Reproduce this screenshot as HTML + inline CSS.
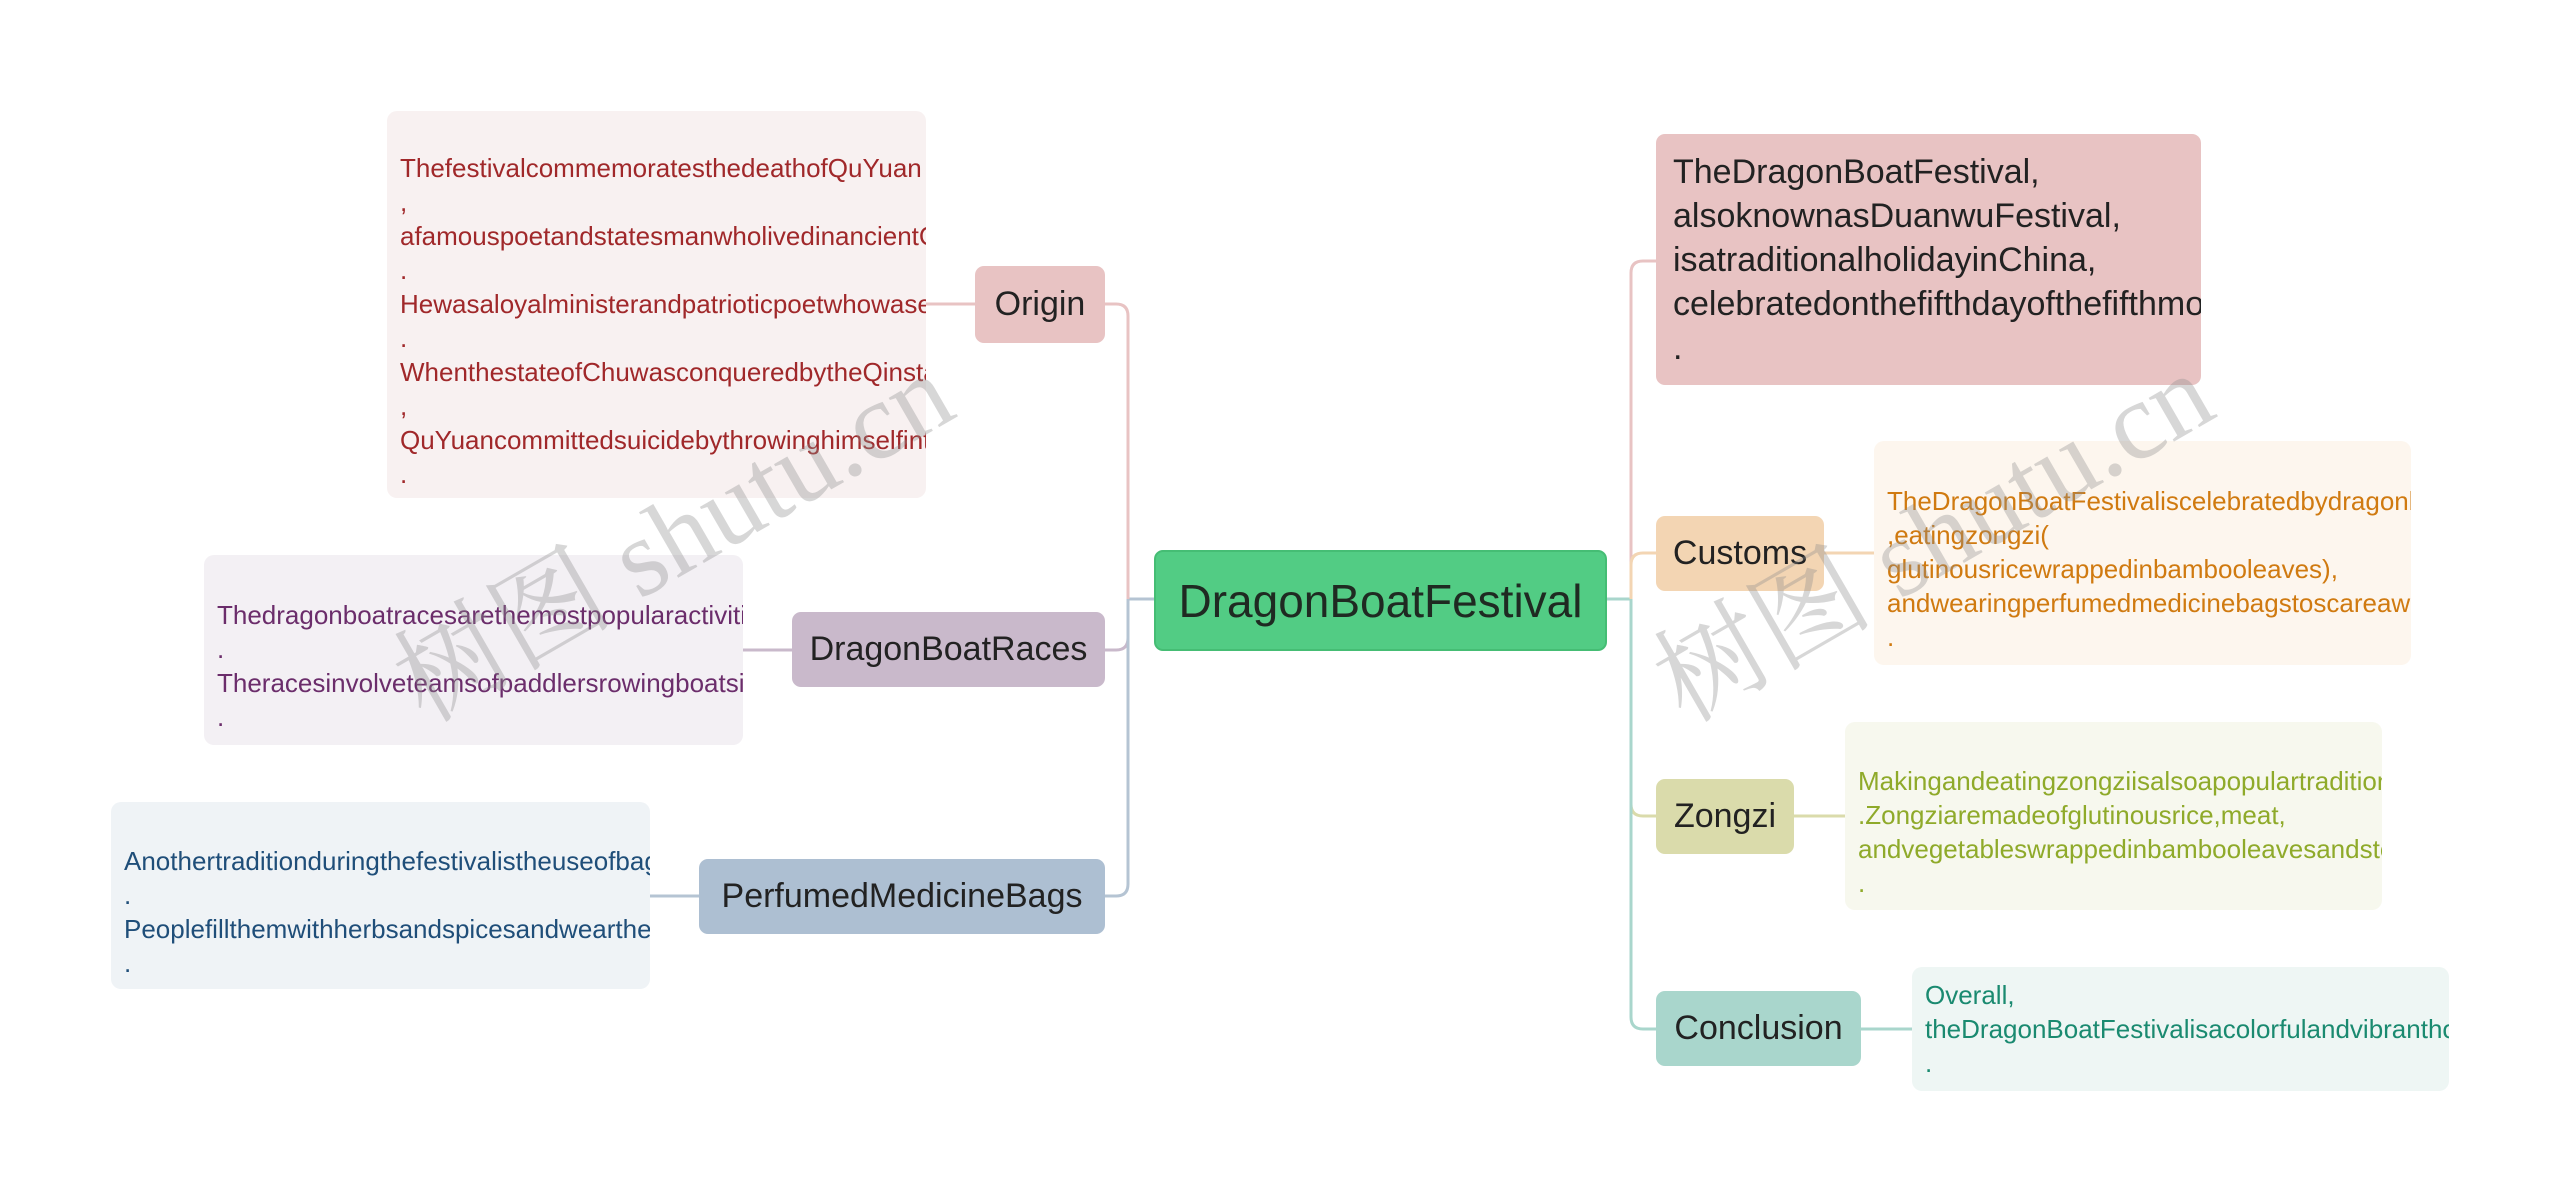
<!DOCTYPE html>
<html><head><meta charset="utf-8"><style>
*{margin:0;padding:0;box-sizing:border-box}
body{width:2560px;height:1201px;background:#fff;position:relative;overflow:hidden;font-family:"Liberation Sans","Noto Sans CJK SC",sans-serif}
.b{position:absolute;border-radius:9px;display:flex;align-items:center;justify-content:center;color:#222;font-size:34px;white-space:nowrap}
.t{position:absolute;border-radius:10px;overflow:hidden;display:flex;flex-direction:column;justify-content:center;padding-left:13px;padding-top:32px;font-size:26px;line-height:34px;white-space:nowrap}
.wm{position:absolute;font-family:"Liberation Serif","Noto Serif CJK SC",serif;font-size:110px;color:rgba(140,140,140,0.35);transform:rotate(-30deg);white-space:nowrap}
</style></head><body>
<svg width="2560" height="1201" style="position:absolute;left:0;top:0" fill="none" stroke-width="3">
<path d="M1154 599H1128" stroke="#b5c4d3"/>
<path d="M1128 599V316Q1128 304 1116 304H1105" stroke="#e8c3c3"/>
<path d="M1128 599V638Q1128 650 1116 650H1105" stroke="#c9b9cb"/>
<path d="M1128 599V884Q1128 896 1116 896H1105" stroke="#b5c4d3"/>
<path d="M975 304H926" stroke="#e8c3c3"/>
<path d="M792 650H743" stroke="#c9b9cb"/>
<path d="M699 896H650" stroke="#b5c4d3"/>
<path d="M1607 599H1631" stroke="#a9d6cc"/>
<path d="M1631 599V273Q1631 261 1643 261H1656" stroke="#e8c3c3"/>
<path d="M1631 599V565Q1631 553 1643 553H1656" stroke="#f3d5b3"/>
<path d="M1631 599V804Q1631 816 1643 816H1656" stroke="#dadbab"/>
<path d="M1631 599V1017Q1631 1029 1643 1029H1656" stroke="#a9d6cc"/>
<path d="M1824 553H1874" stroke="#f3d5b3"/>
<path d="M1794 816H1845" stroke="#dadbab"/>
<path d="M1861 1029H1912" stroke="#a9d6cc"/>
</svg>

<div class="b" style="left:1154px;top:550px;width:453px;height:101px;background:#52cc84;border:2px solid #45bd74;font-size:46px;color:#1f2a22">DragonBoatFestival</div>

<div class="b" style="left:975px;top:266px;width:130px;height:77px;background:#e8c3c3">Origin</div>
<div class="t" style="left:387px;top:111px;width:539px;height:387px;background:#f8f1f1;color:#a0282a">
<div>ThefestivalcommemoratesthedeathofQuYuan</div><div>,</div><div>afamouspoetandstatesmanwholivedinancientChina</div><div>.</div><div>Hewasaloyalministerandpatrioticpoetwhowasexiled</div><div>.</div><div>WhenthestateofChuwasconqueredbytheQinstate</div><div>,</div><div>QuYuancommittedsuicidebythrowinghimselfintotheriver</div><div>.</div></div>

<div class="b" style="left:792px;top:612px;width:313px;height:75px;background:#c9b9cb">DragonBoatRaces</div>
<div class="t" style="left:204px;top:555px;width:539px;height:190px;background:#f3f0f4;color:#6b2d6b">
<div>Thedragonboatracesarethemostpopularactivities</div><div>.</div><div>Theracesinvolveteamsofpaddlersrowingboatsinrhythm</div><div>.</div></div>

<div class="b" style="left:699px;top:859px;width:406px;height:75px;background:#adbfd2">PerfumedMedicineBags</div>
<div class="t" style="left:111px;top:802px;width:539px;height:187px;background:#eff3f6;color:#1f4e79">
<div>Anothertraditionduringthefestivalistheuseofbags</div><div>.</div><div>Peoplefillthemwithherbsandspicesandwearthem</div><div>.</div></div>

<div class="t" style="left:1656px;top:134px;width:545px;height:251px;background:#e8c3c3;color:#222;font-size:34px;line-height:44px;padding-left:17px;padding-top:0;border-radius:9px">
<div>TheDragonBoatFestival,</div><div>alsoknownasDuanwuFestival,</div><div>isatraditionalholidayinChina,</div><div>celebratedonthefifthdayofthefifthmonth</div><div>.</div></div>

<div class="b" style="left:1656px;top:516px;width:168px;height:75px;background:#f3d5b3">Customs</div>
<div class="t" style="left:1874px;top:441px;width:537px;height:224px;background:#fdf6ee;color:#d07a10">
<div>TheDragonBoatFestivaliscelebratedbydragonboatraces</div><div>,eatingzongzi(</div><div>glutinousricewrappedinbambooleaves),</div><div>andwearingperfumedmedicinebagstoscareawayevil</div><div>.</div></div>

<div class="b" style="left:1656px;top:779px;width:138px;height:75px;background:#dadbab">Zongzi</div>
<div class="t" style="left:1845px;top:722px;width:537px;height:188px;background:#f7f8ee;color:#8faa2a">
<div>Makingandeatingzongziisalsoapopulartraditiontoday</div><div>.Zongziaremadeofglutinousrice,meat,</div><div>andvegetableswrappedinbambooleavesandsteamed</div><div>.</div></div>

<div class="b" style="left:1656px;top:991px;width:205px;height:75px;background:#a9d6cc">Conclusion</div>
<div class="t" style="left:1912px;top:967px;width:537px;height:124px;background:#eef6f4;color:#1a8a70;padding-top:0">
<div>Overall,</div><div>theDragonBoatFestivalisacolorfulandvibrantholiday</div><div>.</div></div>

<div class="wm" style="left:360px;top:450px">树图 shutu.cn</div>
<div class="wm" style="left:1620px;top:450px">树图 shutu.cn</div>
</body></html>
